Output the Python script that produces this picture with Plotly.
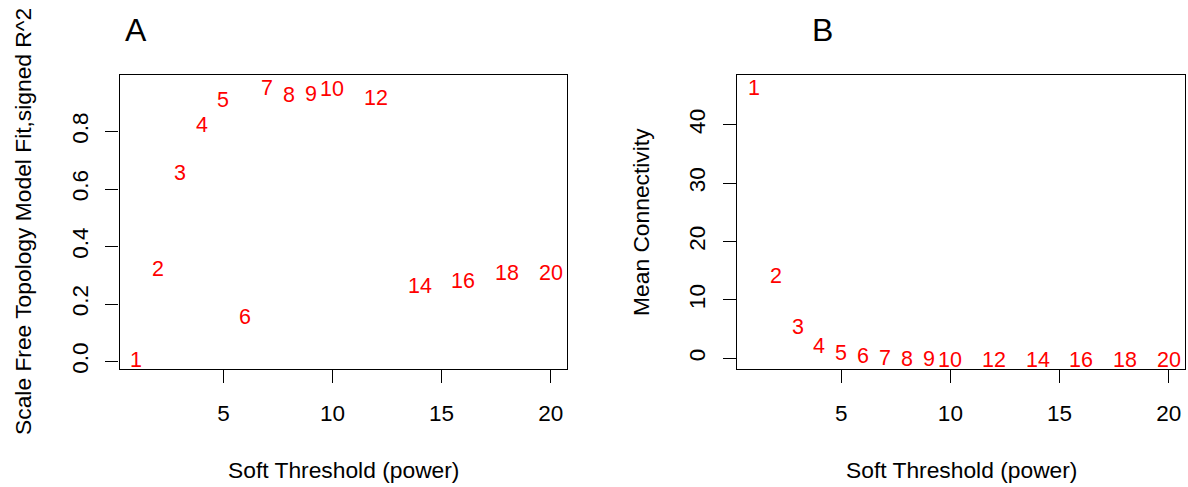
import plotly.graph_objects as go

powers = [1, 2, 3, 4, 5, 6, 7, 8, 9, 10, 12, 14, 16, 18, 20]
sft_r2 = [0.011, 0.328, 0.663, 0.831, 0.917, 0.163, 0.960, 0.933, 0.937, 0.956,
          0.925, 0.270, 0.287, 0.316, 0.315]
mean_k = [46.7, 14.4, 5.68, 2.55, 1.25, 0.72, 0.45, 0.28, 0.19, 0.13,
          0.07, 0.04, 0.025, 0.016, 0.011]
x_ticks = [5, 10, 15, 20]
yA_ticks = [0.0, 0.2, 0.4, 0.6, 0.8]
yA_labels = ["0.0", "0.2", "0.4", "0.6", "0.8"]
yB_ticks = [0, 10, 20, 30, 40]
xlabel = "Soft Threshold (power)"
ylabelA = "Scale Free Topology Model Fit,signed R^2"
ylabelB = "Mean Connectivity"

FONT = "Liberation Sans, Arial, sans-serif"
W, H = 1188, 487


def rrange(v):
    lo, hi = min(v), max(v)
    d = (hi - lo) * 0.04
    return [lo - d, hi + d]


fig = go.Figure()
# invisible traces to bind the axes
fig.add_trace(go.Scatter(x=powers, y=sft_r2, mode="markers", marker=dict(opacity=0),
                         xaxis="x", yaxis="y", hoverinfo="skip"))
fig.add_trace(go.Scatter(x=powers, y=mean_k, mode="markers", marker=dict(opacity=0),
                         xaxis="x2", yaxis="y2", hoverinfo="skip"))

yb0 = (H - 372.3) / H
yb1 = (H - 75.3) / H
axA = [119.5 / W, 567.3 / W]
axB = [737.3 / W, 1185.3 / W]

common_axis = dict(showgrid=False, zeroline=False, showline=True, linecolor="black",
                   linewidth=1.3, mirror=True, ticks="outside", ticklen=13, tickwidth=1.3,
                   tickcolor="black", tickfont=dict(family=FONT, size=22.5, color="black"))

fig.update_layout(
    width=W, height=H,
    margin=dict(l=0, r=0, t=0, b=0),
    paper_bgcolor="white", plot_bgcolor="white",
    showlegend=False,
    xaxis=dict(domain=axA, range=rrange(powers), tickvals=x_ticks, anchor="y",
               ticklabelstandoff=11, **common_axis),
    yaxis=dict(domain=[yb0, yb1], range=rrange(sft_r2), tickvals=yA_ticks, ticktext=yA_labels,
               tickangle=-90, anchor="x", ticklabelstandoff=8, **common_axis),
    xaxis2=dict(domain=axB, range=rrange(powers), tickvals=x_ticks, anchor="y2",
                ticklabelstandoff=11, **common_axis),
    yaxis2=dict(domain=[yb0, yb1], range=rrange(mean_k), tickvals=yB_ticks,
                tickangle=-90, anchor="x2", ticklabelstandoff=9, **common_axis),
)

ann = []
red = dict(family=FONT, size=21.5, color="#FF0000")
for p, v in zip(powers, sft_r2):
    ann.append(dict(text=str(p), x=p, y=v, xref="x", yref="y", showarrow=False,
                    xanchor="center", yanchor="middle", yshift=-2, font=red))
for p, v in zip(powers, mean_k):
    ann.append(dict(text=str(p), x=p, y=v, xref="x2", yref="y2", showarrow=False,
                    xanchor="center", yanchor="middle", yshift=-2, font=red))

ann.append(dict(text="A", x=136 / W, y=(H - 30) / H, xref="paper", yref="paper",
                showarrow=False, xanchor="center", yanchor="middle",
                font=dict(family=FONT, size=32, color="black")))
ann.append(dict(text="B", x=822.7 / W, y=(H - 30) / H, xref="paper", yref="paper",
                showarrow=False, xanchor="center", yanchor="middle",
                font=dict(family=FONT, size=32, color="black")))
for cx in [(axA[0] + axA[1]) / 2, (axB[0] + axB[1]) / 2]:
    ann.append(dict(text=xlabel, x=cx, y=(H - 474) / H, xref="paper", yref="paper",
                    showarrow=False, xanchor="center", yanchor="middle",
                    font=dict(family=FONT, size=22.8, color="black")))
ann.append(dict(text=ylabelA, x=23 / W, y=(H - 223.8) / H, xref="paper", yref="paper",
                showarrow=False, xanchor="center", yanchor="middle", textangle=-90,
                font=dict(family=FONT, size=22.8, color="black")))
ann.append(dict(text=ylabelB, x=641 / W, y=(H - 223.8) / H, xref="paper", yref="paper",
                showarrow=False, xanchor="center", yanchor="middle", textangle=-90,
                font=dict(family=FONT, size=22.8, color="black")))
fig.update_layout(annotations=ann)

fig.write_html("out.html", config={"displayModeBar": False},
               post_script="document.body.style.margin='0';document.body.style.padding='0';")
